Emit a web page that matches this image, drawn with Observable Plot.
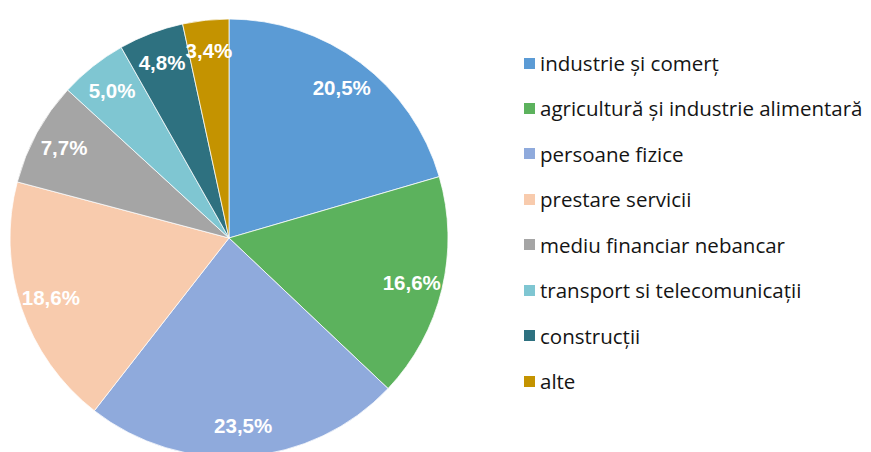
<!DOCTYPE html>
<html>
<head>
<meta charset="utf-8">
<script src="https://cdn.jsdelivr.net/npm/d3@7"></script>
<script src="https://cdn.jsdelivr.net/npm/@observablehq/plot@0.6"></script>
<style>
  html, body { margin: 0; padding: 0; background: #fff; }
  #wrap { position: relative; width: 871px; height: 452px; overflow: hidden; }
  #legend { position: absolute; left: 524px; top: 0; font-family: "Open Sans", Lato, sans-serif; font-size: 20.5px; color: #141414; }
  .item { position: absolute; left: 0; white-space: nowrap; display: flex; align-items: center; }
  .sw { width: 11px; height: 11px; margin-right: 5px; flex: none; }
</style>
</head>
<body>
<div id="wrap"><div id="legend"></div></div>
<script>
const categories = [
  "industrie și comerț",
  "agricultură și industrie alimentară",
  "persoane fizice",
  "prestare servicii",
  "mediu financiar nebancar",
  "transport si telecomunicații",
  "construcții",
  "alte"
];
const shares = [20.5, 16.6, 23.5, 18.6, 7.7, 5.0, 4.8, 3.4];
const labels = ["20,5%", "16,6%", "23,5%", "18,6%", "7,7%", "5,0%", "4,8%", "3,4%"];
const palette = ["#5B9BD5", "#5CB25D", "#8FAADC", "#F8CBAD", "#A5A5A5", "#7FC6D2", "#2E7180", "#C49300"];

const data = categories.map((c, i) => ({category: c, share: shares[i], label: labels[i]}));

const color = Plot.scale({color: {type: "ordinal", domain: categories, range: palette}});

const cx = 229, cy = 238, R = 219, labelR = 188;

const pieMark = (index, scales, values, dimensions) => {
  const pie = d3.pie().sort(null).value(d => d.share)(data);
  const arc = d3.arc().innerRadius(0).outerRadius(R);
  const g = d3.create("svg:g").attr("transform", `translate(${cx},${cy})`);
  g.selectAll("path").data(pie).join("path")
    .attr("d", arc)
    .attr("fill", d => color.apply(d.data.category))
    .attr("stroke", "#fff")
    .attr("stroke-width", 0.75);
  g.selectAll("text").data(pie).join("text")
    .attr("transform", d => {
      const a = (d.startAngle + d.endAngle) / 2;
      return `translate(${labelR * Math.sin(a)},${-labelR * Math.cos(a)})`;
    })
    .attr("text-anchor", "middle")
    .attr("dy", "0.36em")
    .attr("fill", "#fff")
    .attr("font-family", "'Liberation Sans', Arial, sans-serif")
    .attr("font-weight", "bold")
    .attr("font-size", 20.5)
    .text(d => d.data.label);
  return g.node();
};

const chart = Plot.plot({
  width: 871,
  height: 452,
  margin: 0,
  x: {axis: null},
  y: {axis: null},
  marks: [pieMark]
});
document.getElementById("wrap").prepend(chart);

const legendY = d3.scalePoint().domain(categories).range([63, 381]);
const legend = d3.select("#legend");
categories.forEach(c => {
  const it = legend.append("div").attr("class", "item").style("top", (legendY(c) - 14) + "px").style("height", "28px");
  it.append("div").attr("class", "sw").style("background", color.apply(c));
  it.append("span").text(c);
});
</script>
</body>
</html>
